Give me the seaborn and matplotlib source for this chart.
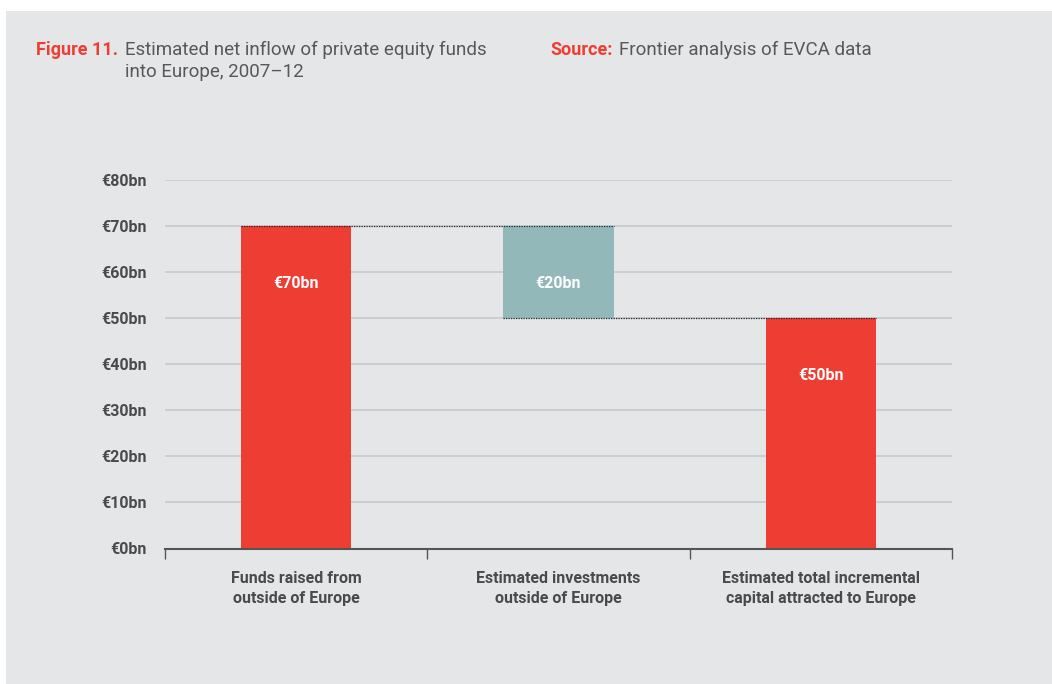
import numpy as np
import pandas as pd
import matplotlib
matplotlib.use('Agg')
import matplotlib.pyplot as plt
import seaborn as sns
from matplotlib.patches import Rectangle

# data
categories = ['Funds raised from\noutside of Europe',
              'Estimated investments\noutside of Europe',
              'Estimated total incremental\ncapital attracted to Europe']
bar_bottoms = [0, 50, 0]
bar_heights = [70, 20, 50]
bar_labels = ['€70bn', '€20bn', '€50bn']
bar_colors = ['#EE3D33', '#93B8BA', '#EE3D33']
yticks = [0, 10, 20, 30, 40, 50, 60, 70, 80]
ytick_labels = ['€%dbn' % v for v in yticks]

BG = '#E5E6E8'
GRID = '#C8C9CC'
TXT = '#4A4A4C'
RED = '#EE3D33'

sns.set_theme(style='white')
plt.rcParams['font.family'] = ['Roboto', 'DejaVu Sans']

df = pd.DataFrame({'cat': categories, 'height': bar_heights, 'bottom': bar_bottoms})

fig = plt.figure(figsize=(10.52, 6.84), dpi=100)
fig.patch.set_facecolor('white')
fig.patches.append(Rectangle((6/1052, 0), 1, 1 - 11/684, transform=fig.transFigure,
                             facecolor=BG, edgecolor='none', zorder=-10))

ax = fig.add_axes([165/1052, 1 - 548.5/684, (952-165)/1052, (548.5-180)/684])
ax.set_facecolor(BG)

bw = 0.42
sns.barplot(data=df, x='cat', y='height', color=bar_colors[0], width=bw,
            bottom=df['bottom'].values, saturation=1, linewidth=0, edgecolor='none',
            ax=ax, zorder=3)
for patch, c in zip(ax.patches, bar_colors):
    patch.set_facecolor(c)

# value labels inside bars
for i, (b, h, lab) in enumerate(zip(bar_bottoms, bar_heights, bar_labels)):
    ax.text(i, b + h - 12.5, lab, ha='center', va='center', color='white',
            fontsize=11.5, fontweight='bold', zorder=5)

# dotted connectors
tops = [b + h for b, h in zip(bar_bottoms, bar_heights)]
ax.hlines(tops[0], 0 - bw/2, 1 + bw/2, colors='#222222', linestyles=(0, (1, 1)), lw=0.9, zorder=4)
ax.hlines(bar_bottoms[1], 1 - bw/2, 2 + bw/2, colors='#222222', linestyles=(0, (1, 1)), lw=0.9, zorder=4)

ax.set_xlim(-0.5, 2.5)
ax.set_ylim(0, 80)
ax.set_yticks(yticks)
ax.set_yticklabels(ytick_labels, fontsize=11.5, fontweight='bold', color=TXT)
ax.yaxis.grid(True, color=GRID, lw=1.2, zorder=0)
ax.set_axisbelow(True)
ax.tick_params(axis='y', length=0, pad=13)

ax.set_xticks(range(len(categories)))
ax.set_xticklabels(categories, fontsize=11.5, fontweight='bold', color=TXT, linespacing=1.45)
ax.set_xticks([-0.5, 0.5, 1.5, 2.5], minor=True)
ax.tick_params(axis='x', which='major', length=0, pad=16)
ax.tick_params(axis='x', which='minor', length=7, width=1, color='#555555', direction='out', bottom=True)
ax.set_xlabel('')
ax.set_ylabel('')

for s in ['top', 'right', 'left']:
    ax.spines[s].set_visible(False)
ax.spines['bottom'].set_color('#555555')
ax.spines['bottom'].set_linewidth(1.5)
ax.spines['bottom'].set_zorder(6)

# header
hy = 1 - 55/684
fig.text(36/1052, hy, 'Figure 11.', color=RED, fontsize=13, fontweight='bold', va='baseline')
fig.text(125/1052, hy, 'Estimated net inflow of private equity funds', color='#58585A',
         fontsize=13.5, va='baseline')
fig.text(125/1052, 1 - 77/684, 'into Europe, 2007–12', color='#58585A', fontsize=13.5, va='baseline')
fig.text(550/1052, hy, 'Source:', color=RED, fontsize=13, fontweight='bold', va='baseline')
fig.text(619/1052, hy, 'Frontier analysis of EVCA data', color='#58585A', fontsize=13.5, va='baseline')

fig.savefig('out.png', dpi=100, facecolor=fig.get_facecolor())
